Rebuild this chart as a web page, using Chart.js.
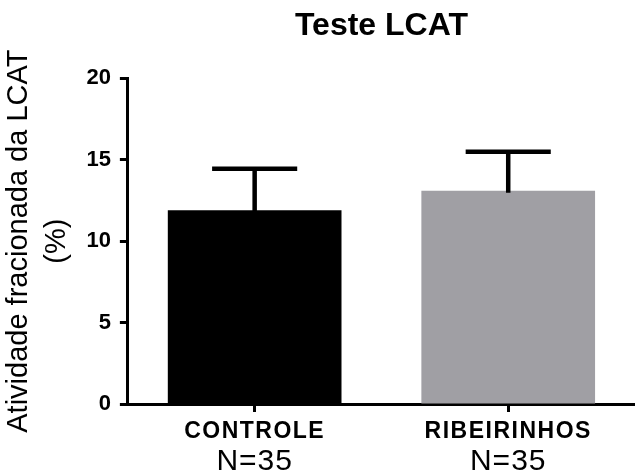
<!DOCTYPE html>
<html>
<head>
<meta charset="utf-8">
<script src="https://cdn.jsdelivr.net/npm/chart.js@4/dist/chart.umd.min.js"></script>
<style>
  html, body { margin: 0; padding: 0; background: #fff; }
  #wrap { width: 635px; height: 473px; }
</style>
</head>
<body>
<div id="wrap"><canvas id="chart" width="635" height="473"></canvas></div>
<script>
var groups = ['CONTROLE', 'RIBEIRINHOS'];
var groupN = ['N=35', 'N=35'];
var means = [11.9, 13.1];
var errors = [2.55, 2.4];
var barColors = ['#000000', '#a09fa4'];
var yTicks = [0, 5, 10, 15, 20];

var FONT = "'Liberation Sans', Arial, sans-serif";

// error bars: whisker above the bar plus a cap
var errorBarPlugin = {
  id: 'errorBars',
  afterDatasetsDraw: function (chart) {
    var meta = chart.getDatasetMeta(0);
    var y = chart.scales.y;
    var ctx = chart.ctx;
    ctx.save();
    ctx.strokeStyle = '#000';
    ctx.lineWidth = 4.5;
    meta.data.forEach(function (bar, i) {
      var top = y.getPixelForValue(means[i] + errors[i]);
      var base = y.getPixelForValue(means[i]);
      var half = bar.width * 0.245;
      ctx.beginPath();
      ctx.moveTo(bar.x, base + 2);
      ctx.lineTo(bar.x, top);
      ctx.moveTo(bar.x - half, top);
      ctx.lineTo(bar.x + half, top);
      ctx.stroke();
    });
    ctx.restore();
  }
};

// two-line category labels with different fonts
var groupLabelPlugin = {
  id: 'groupLabels',
  afterDraw: function (chart) {
    var x = chart.scales.x;
    var bottom = chart.chartArea.bottom;
    var ctx = chart.ctx;
    ctx.save();
    ctx.fillStyle = '#000';
    ctx.textAlign = 'center';
    ctx.textBaseline = 'alphabetic';
    groups.forEach(function (name, i) {
      var cx = x.getPixelForValue(i);
      ctx.font = 'bold 23px ' + FONT;
      ctx.letterSpacing = '1.5px';
      ctx.fillText(name, cx, bottom + 34);
      ctx.font = '30px ' + FONT;
      ctx.letterSpacing = '1px';
      ctx.fillText(groupN[i], cx, bottom + 66);
    });
    ctx.restore();
  }
};

new Chart(document.getElementById('chart').getContext('2d'), {
  type: 'bar',
  data: {
    labels: groups,
    datasets: [{
      data: means,
      backgroundColor: barColors,
      borderWidth: 0,
      barPercentage: 0.685,
      categoryPercentage: 1.0
    }]
  },
  options: {
    responsive: false,
    animation: false,
    layout: { padding: { left: 0, right: 0, top: 0, bottom: 61 } },
    plugins: {
      legend: { display: false },
      tooltip: { enabled: false },
      title: {
        display: true,
        text: 'Teste LCAT',
        fullSize: false,
        color: '#000',
        font: { family: FONT, size: 32, weight: 'bold' },
        padding: { top: 7, bottom: 33 }
      }
    },
    scales: {
      x: {
        grid: {
          display: true,
          drawOnChartArea: false,
          drawTicks: true,
          offset: false,
          tickLength: 8,
          tickWidth: 3,
          color: '#000'
        },
        border: { display: true, color: '#000', width: 3 },
        ticks: { display: false }
      },
      y: {
        min: 0,
        max: 20,
        afterBuildTicks: function (axis) {
          axis.ticks = yTicks.map(function (v) { return { value: v }; });
        },
        grid: {
          display: true,
          drawOnChartArea: false,
          drawTicks: true,
          tickLength: 8,
          tickWidth: 3,
          color: '#000'
        },
        border: { display: true, color: '#000', width: 3 },
        ticks: {
          color: '#000',
          padding: 9,
          font: { family: FONT, size: 22, weight: 'bold' }
        },
        title: {
          display: true,
          text: ['Atividade fracionada da LCAT', '(%)'],
          color: '#000',
          font: { family: FONT, size: 29, lineHeight: 1.3 },
          padding: { top: 0, bottom: 2 }
        }
      }
    }
  },
  plugins: [errorBarPlugin, groupLabelPlugin]
});
</script>
</body>
</html>
